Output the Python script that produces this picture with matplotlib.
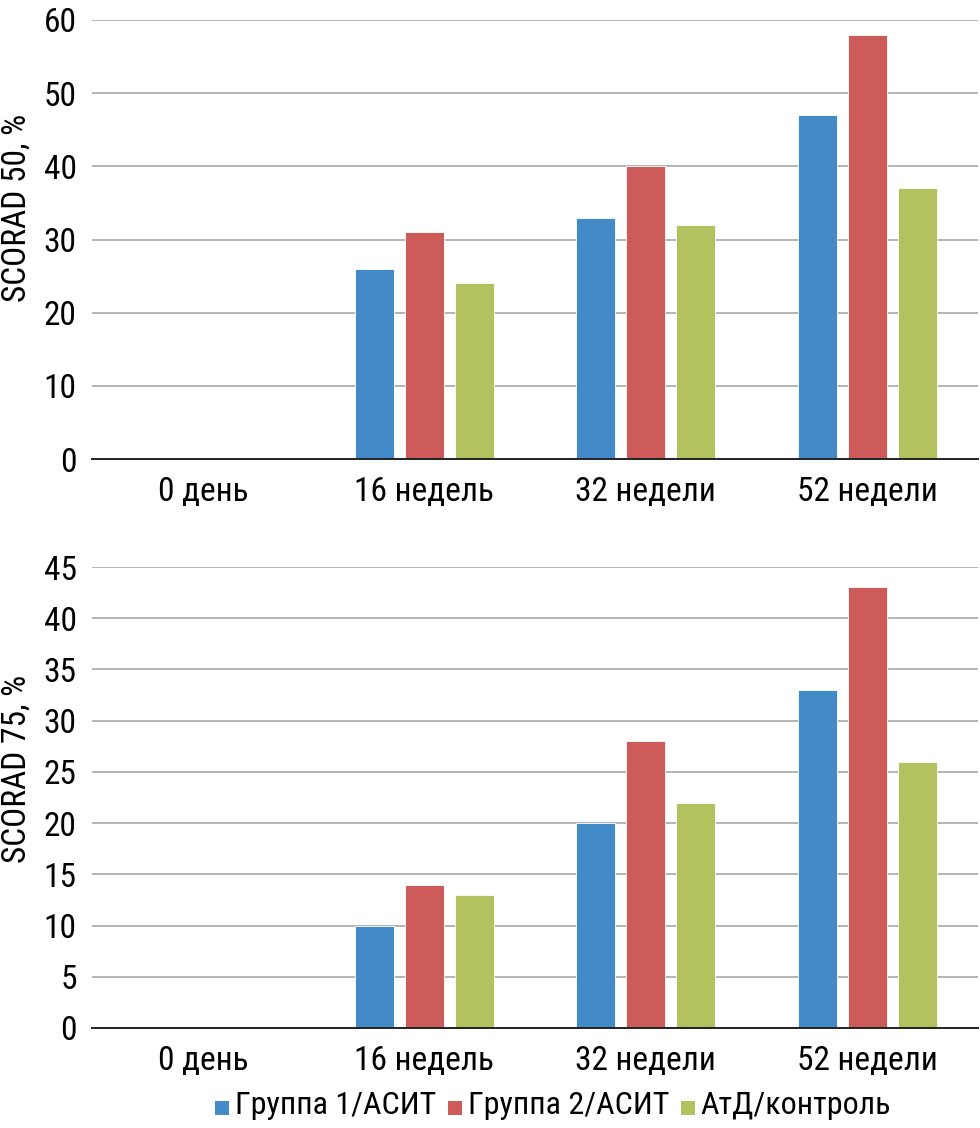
import matplotlib
matplotlib.use("Agg")
import matplotlib.pyplot as plt
from matplotlib import font_manager as fm
from matplotlib.legend_handler import HandlerPatch
from matplotlib.patches import Patch, Rectangle
import numpy as np

# pick a condensed font if one is installed
chosen = None
cond_names = ['Roboto Condensed', 'Liberation Sans Narrow', 'Noto Sans Condensed',
              'Open Sans Condensed', 'DejaVu Sans Condensed', 'Noto Sans SemiCondensed']
for f in fm.fontManager.ttflist:
    if f.name in cond_names and f.weight in (400, 'normal', 'regular') and f.style == 'normal':
        chosen = (f.name, f.stretch); break
if chosen is None:
    for f in fm.fontManager.ttflist:
        if f.name in ('Roboto', 'Noto Sans', 'DejaVu Sans', 'Open Sans') and \
           f.stretch in ('condensed', 'semi-condensed', 300, 400) and f.style == 'normal' \
           and f.weight in (400, 'normal', 'regular'):
            chosen = (f.name, f.stretch); break

if chosen is not None:
    plt.rcParams['font.family'] = [chosen[0], 'DejaVu Sans']
    plt.rcParams['font.stretch'] = chosen[1]
    FS = 24
    LFS = 23
else:
    plt.rcParams['font.family'] = ['DejaVu Sans']
    FS = 19
    LFS = 18

categories = ["0 день", "16 недель", "32 недели", "52 недели"]
series_names = ["Группа 1/АСИТ", "Группа 2/АСИТ", "АтД/контроль"]
colors = ["#428BC8", "#CD5B59", "#B3C25F"]

scorad50_g1 = [0, 26, 33, 47]
scorad50_g2 = [0, 31, 40, 58]
scorad50_ctrl = [0, 24, 32, 37]

scorad75_g1 = [0, 10, 20, 33]
scorad75_g2 = [0, 14, 28, 43]
scorad75_ctrl = [0, 13, 22, 26]

fig = plt.figure(figsize=(9.8, 11.28), dpi=100)
W, H = 980, 1128

def add_ax(left, top, right, bottom):
    return fig.add_axes([left / W, 1 - bottom / H, (right - left) / W, (bottom - top) / H])

ax1 = add_ax(92, 20, 978, 459)
ax2 = add_ax(92, 567, 978, 1028)

def draw(ax, data, ymax, step, ylabel):
    x = np.arange(len(categories))
    bw = 0.176
    off = 0.2257
    for i, (vals, c) in enumerate(zip(data, colors)):
        ax.bar(x + (i - 1) * off, vals, width=bw, color=c, edgecolor='white', linewidth=0.6, zorder=3)
    ax.set_xlim(-0.5, len(categories) - 0.5)
    ax.set_ylim(0, ymax)
    ax.set_yticks(np.arange(0, ymax + 0.01, step))
    ax.set_xticks(x)
    ax.set_xticklabels(categories, fontsize=FS)
    ax.tick_params(axis='y', labelsize=FS, length=0, pad=11)
    ax.tick_params(axis='x', length=0, pad=12)
    ax.yaxis.grid(True, color='#B4B4B4', linewidth=1.4, zorder=0)
    ax.set_axisbelow(True)
    for s in ['top', 'right', 'left']:
        ax.spines[s].set_visible(False)
    ax.spines['bottom'].set_color('#222222')
    ax.spines['bottom'].set_linewidth(1.4)
    ax.spines['bottom'].set_zorder(4)
    ax.set_ylabel(ylabel, fontsize=FS, labelpad=8)

draw(ax1, [scorad50_g1, scorad50_g2, scorad50_ctrl], 60, 10, "SCORAD 50, %")
draw(ax2, [scorad75_g1, scorad75_g2, scorad75_ctrl], 45, 5, "SCORAD 75, %")
ax1.yaxis.set_label_coords(-59 / 886, 0.572)
ax2.yaxis.set_label_coords(-59 / 886, 0.562)

SQ = 10.0  # legend square side in points

def square(legend, orig_handle, xdescent, ydescent, width, height, fontsize):
    return Rectangle((-xdescent, 0), SQ, SQ)

handles = [Patch(facecolor=c, edgecolor='none') for c in colors]
fig.legend(handles, series_names, loc='center', bbox_to_anchor=(553 / W, 1 - 1106 / H),
           ncol=3, frameon=False, fontsize=LFS, handlelength=SQ / LFS, handleheight=0.7,
           handletextpad=0.19, columnspacing=0.37,
           handler_map={Patch: HandlerPatch(patch_func=square)})

fig.savefig("out.png", dpi=100)
